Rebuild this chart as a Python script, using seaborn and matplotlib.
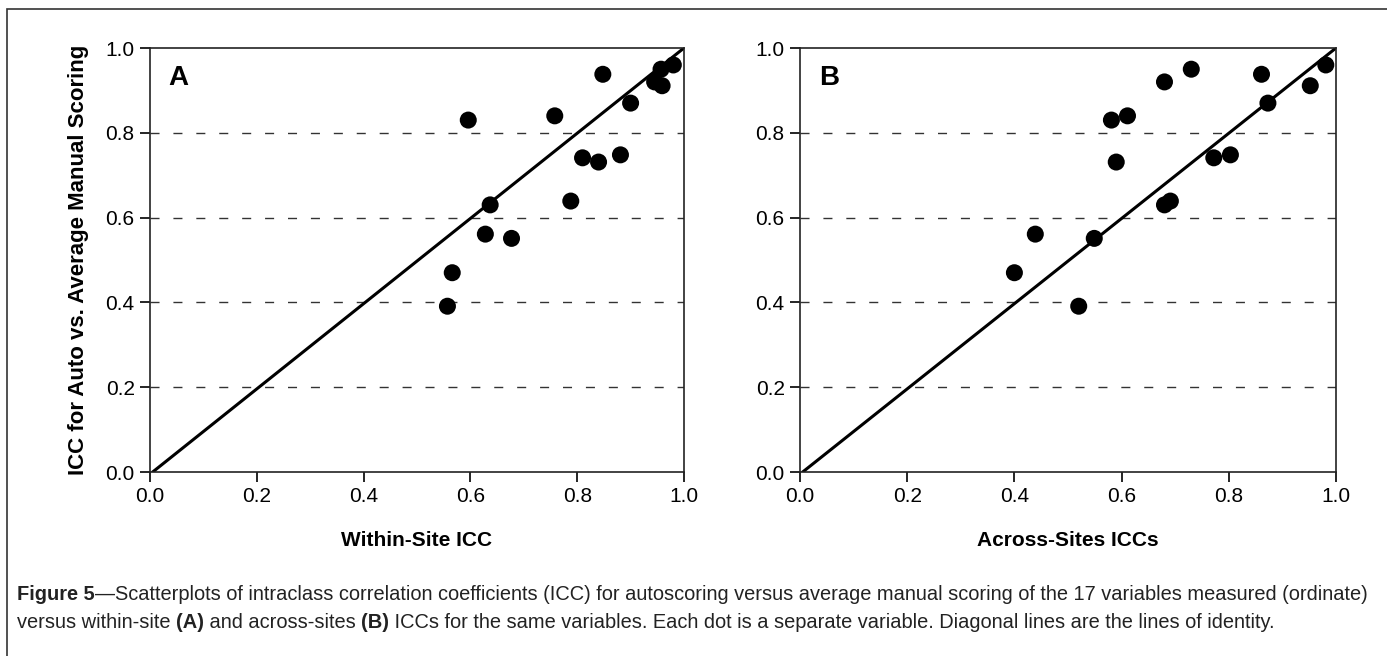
import pandas as pd
import numpy as np
import matplotlib
matplotlib.use("Agg")
import matplotlib.pyplot as plt
from matplotlib.patches import Rectangle
import seaborn as sns

# ICC values per variable (17 variables)
auto_vs_manual = [0.391, 0.470, 0.551, 0.561, 0.630, 0.639, 0.731, 0.741, 0.748,
                  0.830, 0.840, 0.870, 0.911, 0.920, 0.938, 0.950, 0.960]
within_site = [0.557, 0.566, 0.677, 0.628, 0.637, 0.788, 0.840, 0.810, 0.881,
               0.596, 0.758, 0.900, 0.959, 0.945, 0.848, 0.957, 0.980]
across_sites = [0.520, 0.400, 0.549, 0.439, 0.680, 0.691, 0.590, 0.772, 0.803,
                0.581, 0.611, 0.873, 0.952, 0.680, 0.861, 0.730, 0.981]
ticks = [0.0, 0.2, 0.4, 0.6, 0.8, 1.0]
tick_labels = ["0.0", "0.2", "0.4", "0.6", "0.8", "1.0"]

df = pd.DataFrame({"auto": auto_vs_manual, "within": within_site, "across": across_sites})

sns.set_style("white")
plt.rcParams["font.family"] = ["Liberation Sans", "DejaVu Sans"]
plt.rcParams["text.color"] = "black"
plt.rcParams["axes.labelcolor"] = "black"

fig = plt.figure(figsize=(13.87, 6.56), dpi=100)
ax_a = fig.add_axes([150 / 1387, 1 - 472 / 656, 534 / 1387, 424 / 656])
ax_b = fig.add_axes([800 / 1387, 1 - 472 / 656, 536 / 1387, 424 / 656])

panels = [(ax_a, "within", "Within-Site ICC", "A"), (ax_b, "across", "Across-Sites ICCs", "B")]
for ax, col, xlabel, letter in panels:
    for g in ticks[1:-1]:
        ax.axhline(g, color="#333333", lw=1, ls=(0, (6.5, 10)), zorder=1)
    ax.plot([0.005, 1], [0, 1], color="black", lw=2.2, zorder=2)
    sns.scatterplot(data=df, x=col, y="auto", ax=ax, color="black", s=150,
                    edgecolor="none", zorder=3, clip_on=False)
    ax.set_xlim(0, 1)
    ax.set_ylim(0, 1)
    ax.set_xticks(ticks)
    ax.set_xticklabels(tick_labels)
    ax.set_yticks(ticks)
    ax.set_yticklabels(tick_labels)
    ax.tick_params(direction="out", length=7, width=1.2, labelsize=15, colors="black",
                   bottom=True, left=True, pad=4)
    for sp in ax.spines.values():
        sp.set_color("#222222")
        sp.set_linewidth(1.2)
    ax.set_xlabel(xlabel, fontsize=15, fontweight="bold", labelpad=18)
    ax.set_ylabel("")
    ax.text(0.035, 0.93, letter, transform=ax.transAxes, fontsize=20,
            fontweight="bold", va="center", ha="left", color="black")

ax_a.set_ylabel("ICC for Auto vs. Average Manual Scoring", fontsize=16,
                fontweight="bold", labelpad=12)

# outer frame (only top and left edges fall inside the image)
fig.patches.append(Rectangle((7 / 1387, -0.1), 1.2, 1 - 9 / 656 + 0.1,
                             transform=fig.transFigure, fill=False,
                             edgecolor="#333333", lw=1.2))

# caption with mixed bold / regular pieces
fig.canvas.draw()
renderer = fig.canvas.get_renderer()


def draw_pieces(pieces, x_px, y_px, size=14.4):
    x = x_px
    for txt, weight in pieces:
        t = fig.text(x / 1387, 1 - y_px / 656, txt, fontsize=size, fontweight=weight,
                     color="#222222", va="center", ha="left")
        bb = t.get_window_extent(renderer=renderer)
        x += bb.width


line1 = [("Figure 5", "bold"),
         ("\u2014Scatterplots of intraclass correlation coefficients (ICC) for autoscoring versus "
          "average manual scoring of the 17 variables measured (ordinate)", "normal")]
line2 = [("versus within-site ", "normal"), ("(A)", "bold"), (" and across-sites ", "normal"),
         ("(B)", "bold"),
         (" ICCs for the same variables. Each dot is a separate variable. "
          "Diagonal lines are the lines of identity.", "normal")]
draw_pieces(line1, 17, 595)
draw_pieces(line2, 17, 622)

fig.savefig("out.png", dpi=100)
